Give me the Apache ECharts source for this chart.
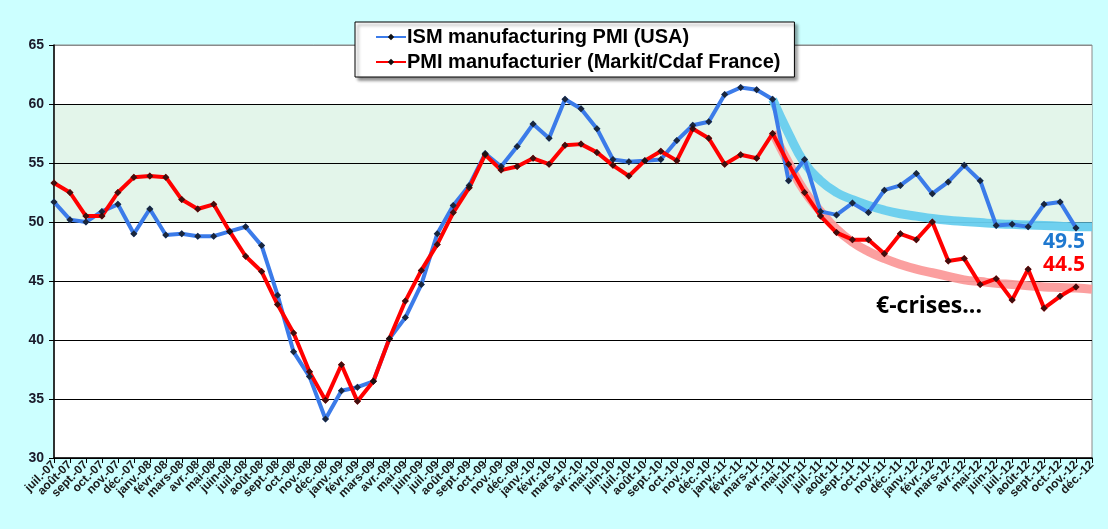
<!DOCTYPE html>
<html>
<head>
<meta charset="utf-8">
<script src="https://cdn.jsdelivr.net/npm/echarts@6/dist/echarts.min.js"></script>
<style>
  html, body { margin: 0; padding: 0; background: #ccffff; }
  #pmi_chart { width: 1108px; height: 529px; }
</style>
</head>
<body>
<div id="pmi_chart"></div>
<script>
// months juil-07 .. déc-12
var months = [
    'juil.-07', 'août-07', 'sept.-07', 'oct.-07', 'nov.-07', 'déc.-07',
    'janv.-08', 'févr.-08', 'mars-08', 'avr.-08', 'mai-08', 'juin-08',
    'juil.-08', 'août-08', 'sept.-08', 'oct.-08', 'nov.-08', 'déc.-08',
    'janv.-09', 'févr.-09', 'mars-09', 'avr.-09', 'mai-09', 'juin-09',
    'juil.-09', 'août-09', 'sept.-09', 'oct.-09', 'nov.-09', 'déc.-09',
    'janv.-10', 'févr.-10', 'mars-10', 'avr.-10', 'mai-10', 'juin-10',
    'juil.-10', 'août-10', 'sept.-10', 'oct.-10', 'nov.-10', 'déc.-10',
    'janv.-11', 'févr.-11', 'mars-11', 'avr.-11', 'mai-11', 'juin-11',
    'juil.-11', 'août-11', 'sept.-11', 'oct.-11', 'nov.-11', 'déc.-11',
    'janv.-12', 'févr.-12', 'mars-12', 'avr.-12', 'mai-12', 'juin-12',
    'juil.-12', 'août-12', 'sept.-12', 'oct.-12', 'nov.-12', 'déc.-12'
];

var ismUsa = [
    51.7, 50.2, 50.0, 50.9, 51.5, 49.0, 51.1, 48.9, 49.0, 48.8, 48.8, 49.2,
    49.6, 48.0, 43.8, 39.0, 36.9, 33.3, 35.7, 36.0, 36.5, 40.1, 41.9, 44.7,
    49.0, 51.4, 53.1, 55.8, 54.7, 56.4, 58.3, 57.1, 60.4, 59.6, 57.9, 55.3,
    55.1, 55.2, 55.3, 56.9, 58.2, 58.5, 60.8, 61.4, 61.2, 60.4, 53.5, 55.3,
    50.9, 50.6, 51.6, 50.8, 52.7, 53.1, 54.1, 52.4, 53.4, 54.8, 53.5, 49.7,
    49.8, 49.6, 51.5, 51.7, 49.5, null
];

var pmiFrance = [
    53.3, 52.5, 50.5, 50.5, 52.5, 53.8, 53.9, 53.8, 51.9, 51.1, 51.5, 49.2,
    47.1, 45.8, 43.0, 40.6, 37.3, 34.9, 37.9, 34.8, 36.5, 40.1, 43.3, 45.9,
    48.1, 50.8, 52.9, 55.7, 54.4, 54.7, 55.4, 54.9, 56.5, 56.6, 55.9, 54.8,
    53.9, 55.2, 56.0, 55.2, 57.9, 57.1, 54.9, 55.7, 55.4, 57.5, 54.9, 52.5,
    50.5, 49.1, 48.5, 48.5, 47.3, 49.0, 48.5, 50.0, 46.7, 46.9, 44.7, 45.2,
    43.4, 46.0, 42.7, 43.7, 44.5, null
];

// hand drawn trend curves, from avr.-11 to déc.-12
var trendUsa = [
    60.4, 57.5, 55.0, 53.5, 52.5, 51.9, 51.4, 51.0, 50.7, 50.5, 50.3,
    50.15, 50.05, 49.95, 49.85, 49.8, 49.75, 49.7, 49.65, 49.6, 49.6
];
var trendFrance = [
    57.6, 55.0, 52.6, 50.9, 49.4, 48.3, 47.5, 46.9, 46.4, 46.0, 45.7,
    45.4, 45.1, 44.95, 44.8, 44.7, 44.6, 44.5, 44.45, 44.4, 44.3
];
var trendStart = 45;

var yTicks = [30, 35, 40, 45, 50, 55, 60, 65];

function pad_trend(arr) {
    var out = [];
    for (var i = 0; i < months.length; i++) {
        out.push(i < trendStart ? null : arr[i - trendStart]);
    }
    return out;
}

let pmiChart = echarts.init(document.getElementById('pmi_chart'));

var labelFont = 'Arial, "Liberation Sans", sans-serif';
var none = 'rgba(0,0,0,0)';
var band = '#e3f5ea';

var option = {
    backgroundColor: '#ccffff',
    animation: false,
    grid: {
        left: 54,
        right: 16,
        top: 45,
        bottom: 71,
        show: true,
        backgroundColor: '#ffffff',
        borderColor: '#8a8a8a',
        borderWidth: 1
    },
    legend: {
        data: ['ISM manufacturing PMI (USA)', 'PMI manufacturier (Markit/Cdaf France)'],
        orient: 'vertical',
        left: 355,
        top: 22,
        padding: [5, 14, 5, 20],
        itemGap: 5,
        itemWidth: 30,
        itemHeight: 8,
        backgroundColor: '#ffffff',
        borderColor: '#000000',
        borderWidth: 1,
        shadowColor: 'rgba(0,0,0,0.45)',
        shadowBlur: 3,
        shadowOffsetX: 3,
        shadowOffsetY: 3,
        itemStyle: { color: '#111' },
        textStyle: {
            fontFamily: labelFont,
            fontWeight: 'bold',
            fontSize: 20,
            color: '#000000',
            padding: [0, 0, 0, -4]
        }
    },
    xAxis: {
        type: 'category',
        boundaryGap: false,
        data: months,
        axisLine: { show: true, lineStyle: { color: '#000', width: 1.5 } },
        axisTick: { show: true, interval: 0, length: 5, lineStyle: { color: '#000' } },
        axisLabel: {
            interval: 0,
            rotate: 45,
            margin: 5,
            fontFamily: labelFont,
            fontWeight: 'bold',
            fontSize: 12,
            color: '#1a1a1a'
        },
        splitLine: { show: false }
    },
    yAxis: {
        type: 'value',
        min: yTicks[0],
        max: yTicks[yTicks.length - 1],
        interval: 5,
        axisLine: { show: true, lineStyle: { color: '#000', width: 1.5 } },
        axisTick: { show: true, length: 5, lineStyle: { color: '#000' } },
        axisLabel: {
            margin: 10,
            fontFamily: labelFont,
            fontWeight: 'bold',
            fontSize: 14,
            color: '#1a1a2a'
        },
        // green zone 50-60
        splitArea: {
            show: true,
            areaStyle: { color: [none, none, none, none, band, band, none] }
        },
        splitLine: {
            show: true,
            lineStyle: {
                color: ['#000', '#000', '#000', '#000', '#000', '#000', '#000', '#8a8a8a'],
                width: 1.2
            }
        }
    },
    series: [
        {
            name: 'trend USA',
            type: 'line',
            data: pad_trend(trendUsa),
            smooth: true,
            showSymbol: false,
            lineStyle: { color: '#67cdee', width: 9, opacity: 0.95 },
            z: 2
        },
        {
            name: 'trend France',
            type: 'line',
            data: pad_trend(trendFrance),
            smooth: true,
            showSymbol: false,
            lineStyle: { color: '#fb9a9a', width: 9, opacity: 0.95 },
            z: 2
        },
        {
            name: 'ISM manufacturing PMI (USA)',
            type: 'line',
            data: ismUsa,
            symbol: 'diamond',
            symbolSize: 7,
            itemStyle: { color: '#3b7be9' },
            lineStyle: { color: '#3b7be9', width: 4 },
            z: 3
        },
        {
            name: 'PMI manufacturier (Markit/Cdaf France)',
            type: 'line',
            data: pmiFrance,
            symbol: 'diamond',
            symbolSize: 7,
            itemStyle: { color: '#ff0000' },
            lineStyle: { color: '#ff0000', width: 4 },
            z: 3
        },
        {
            // black markers drawn over both lines
            name: 'markers USA',
            type: 'scatter',
            data: ismUsa,
            symbol: 'diamond',
            symbolSize: 7,
            itemStyle: { color: '#111' },
            z: 4
        },
        {
            name: 'markers France',
            type: 'scatter',
            data: pmiFrance,
            symbol: 'diamond',
            symbolSize: 7,
            itemStyle: { color: '#111' },
            z: 4
        }
    ],
    graphic: [
        {
            type: 'text',
            right: 23,
            top: 232,
            style: {
                text: '49.5',
                fill: '#1e78cf',
                font: 'bold 21px "Open Sans", sans-serif'
            }
        },
        {
            type: 'text',
            right: 23,
            top: 255,
            style: {
                text: '44.5',
                fill: '#ff0000',
                font: 'bold 21px "Open Sans", sans-serif'
            }
        },
        {
            type: 'text',
            left: 876,
            top: 295,
            style: {
                text: '€-crises...',
                fill: '#000000',
                font: 'bold 23px "Open Sans", sans-serif'
            }
        }
    ]
};

option && pmiChart.setOption(option, true);
</script>
</body>
</html>
